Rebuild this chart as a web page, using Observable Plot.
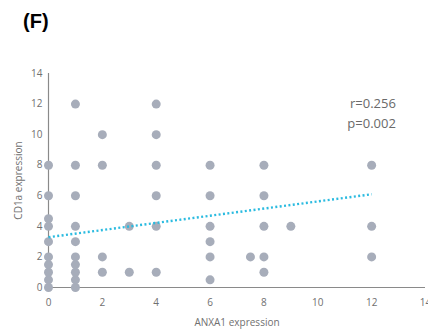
<!DOCTYPE html>
<html>
<head>
<meta charset="utf-8">
<script src="https://cdn.jsdelivr.net/npm/d3@7"></script>
<script src="https://cdn.jsdelivr.net/npm/@observablehq/plot@0.6"></script>
<style>
  body { margin: 0; background: #fff; width: 428px; height: 331px; overflow: hidden; }
  #title { height: 50px; box-sizing: border-box; padding: 10px 0 0 23px; font: bold 20px "Liberation Sans", Arial, sans-serif; color: #000; }
  #chart svg { display: block; }
</style>
</head>
<body>
<div id="title">(F)</div>
<div id="chart"></div>
<script>
// ANXA1 expression (x) vs CD1a expression (y)
const anxa1 = [0,0,0,0,0,0,0,0,0,0,
               1,1,1,1,1,1,1,1,1,1,
               2,2,2,2,
               3,3,
               4,4,4,4,4,4,
               6,6,6,6,6,6,
               7.5,
               8,8,8,8,8,
               9,
               12,12,12];
const cd1a  = [0,0.5,1,1.5,2,3,4,4.5,6,8,
               0,0.5,1,1.5,2,3,4,6,8,12,
               1,2,8,10,
               1,4,
               1,4,6,8,10,12,
               0.5,2,3,4,6,8,
               2,
               1,2,4,6,8,
               4,
               2,4,8];
const trendX = [0, 12];
const trendY = [3.29, 6.1];
const statsText = ["r=0.256", "p=0.002"];
const statsX = [12.9, 12.9];
const statsY = [12.0, 10.7];
const ticks = [0, 2, 4, 6, 8, 10, 12, 14];

const points = anxa1.map((x, i) => ({x, y: cd1a[i]}));
const trend = trendX.map((x, i) => ({x, y: trendY[i]}));
const stats = statsText.map((t, i) => ({t, x: statsX[i], y: statsY[i]}));

const chart = Plot.plot({
  width: 428,
  height: 281,
  marginTop: 23,
  marginBottom: 44,
  marginLeft: 48,
  marginRight: 3,
  style: { fontFamily: "'Open Sans', sans-serif", fontSize: "10px", color: "#707070", background: "#fff" },
  x: { domain: [0, 14], ticks, tickSize: 0, tickPadding: 11, label: "ANXA1 expression", labelArrow: false, labelAnchor: "center", labelOffset: 38 },
  y: { domain: [0, 14], ticks, tickSize: 0, tickPadding: 6, label: "CD1a expression", labelArrow: false, labelAnchor: "center", labelOffset: 34 },
  marks: [
    Plot.ruleX([0], { stroke: "#8a8a8a", strokeWidth: 1.2 }),
    Plot.ruleY([0], { stroke: "#8a8a8a", strokeWidth: 1.2, x1: 0, x2: 14 }),
    Plot.dot(points, { x: "x", y: "y", r: 4.5, fill: "#a7adba", stroke: "none" }),
    Plot.line(trend, { x: "x", y: "y", stroke: "#2bbbe0", strokeWidth: 2.4, strokeDasharray: "2 2.4", strokeLinecap: "butt" }),
    Plot.text(stats, { x: "x", y: "y", text: "t", textAnchor: "end", fontSize: 13, fill: "#6a6a6a" })
  ]
});
document.getElementById("chart").appendChild(chart);
</script>
</body>
</html>
